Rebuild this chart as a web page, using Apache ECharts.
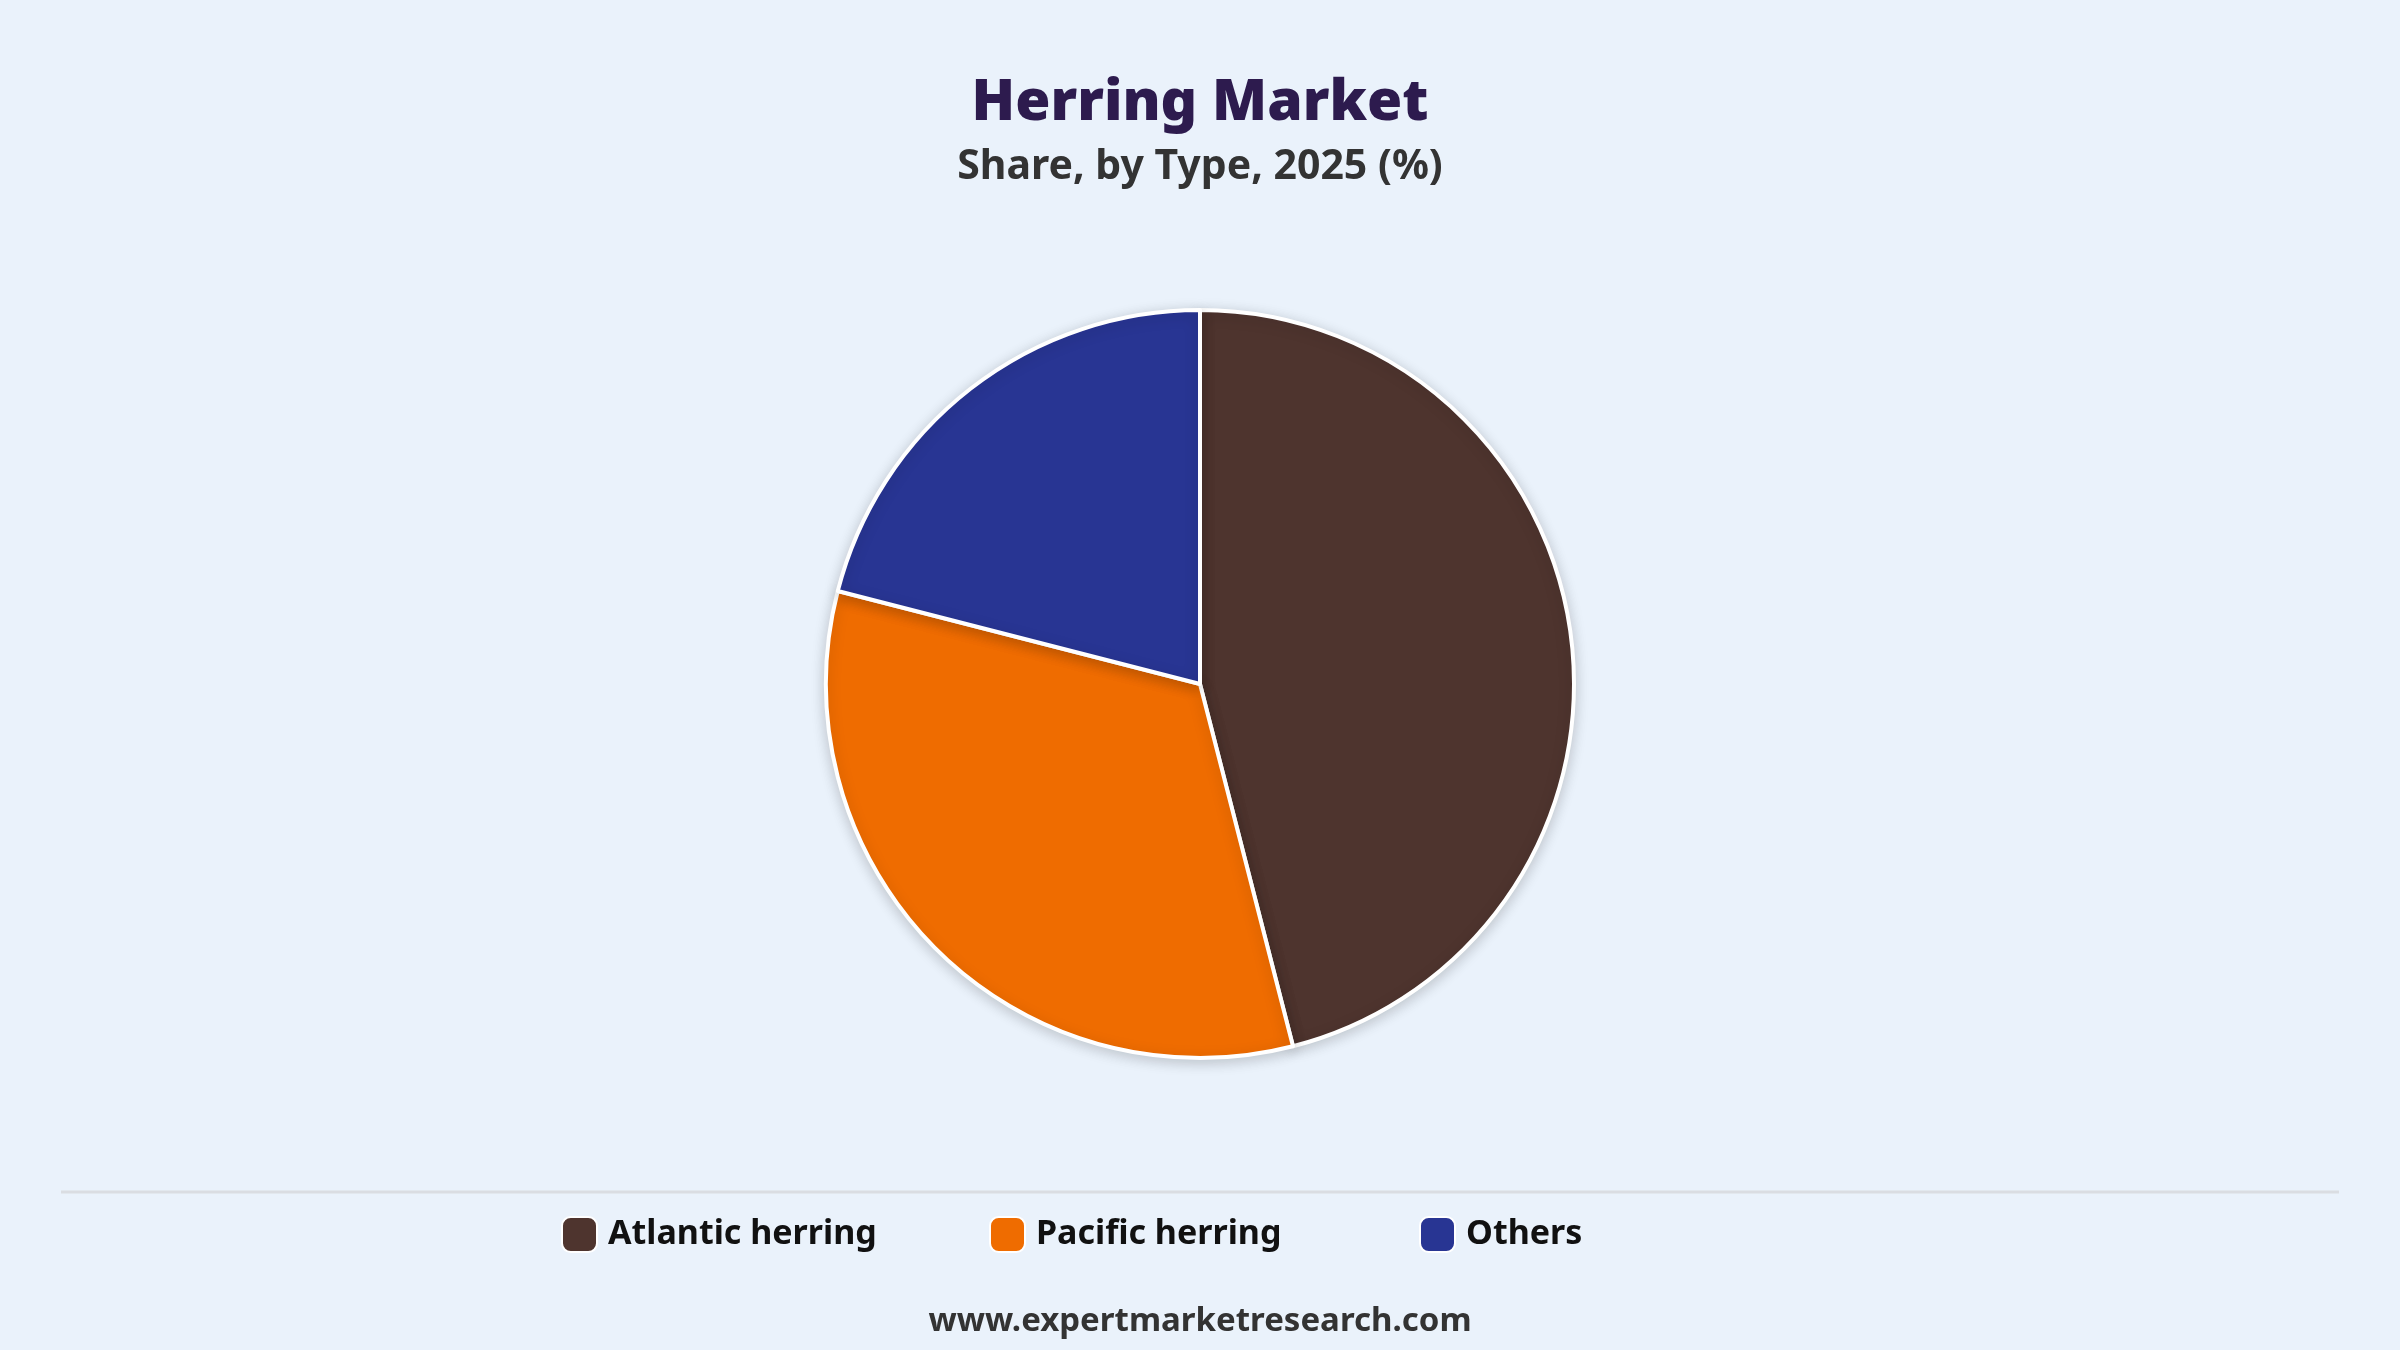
<!DOCTYPE html>
<html>
<head>
<meta charset="utf-8">
<script src="https://cdn.jsdelivr.net/npm/echarts@6/dist/echarts.min.js"></script>
<style>
html,body{margin:0;padding:0;background:#EAF2FB;}
#chart{width:2400px;height:1350px;}
</style>
</head>
<body>
<div id="chart"></div>
<script>
const categories = ['Atlantic herring', 'Pacific herring', 'Others'];
const shares = [46, 33, 21];
const colors = ['#4E342E', '#EF6C00', '#283593'];

const legendLefts = [556, 984, 1414];
const legendCommon = {
  top: 1211,
  itemWidth: 35,
  itemHeight: 35,
  itemGap: 0,
  icon: 'roundRect',
  textStyle: {fontFamily: 'Noto Sans', fontWeight: 'bold', fontSize: 34, color: '#111111', padding: [0, 0, 0, 6]},
  selectedMode: false
};

const chart = echarts.init(document.getElementById('chart'));
chart.setOption({
  backgroundColor: '#EAF2FB',
  title: [{
    text: 'Herring Market',
    left: 'center',
    top: 70,
    textStyle: {fontFamily: 'Noto Sans', fontWeight: 900, fontSize: 57, color: '#2D1B4E'}
  }, {
    text: 'Share, by Type, 2025 (%)',
    left: 'center',
    top: 142,
    textStyle: {fontFamily: 'Noto Sans', fontWeight: 'bold', fontSize: 41, color: '#333333'}
  }, {
    text: 'www.expertmarketresearch.com',
    left: 'center',
    top: 1300,
    textStyle: {fontFamily: 'Noto Sans', fontWeight: 'bold', fontSize: 33, color: '#333333'}
  }],
  legend: categories.map((c, i) => Object.assign({}, legendCommon, {data: [c], left: legendLefts[i]})),
  graphic: [{
    type: 'line',
    shape: {x1: 61, y1: 1192, x2: 2339, y2: 1192},
    style: {stroke: '#DADDE2', lineWidth: 3}
  }],
  series: [{
    type: 'pie',
    center: [1200, 684],
    radius: [0, 374],
    startAngle: 90,
    clockwise: true,
    label: {show: false},
    labelLine: {show: false},
    emphasis: {disabled: true},
    itemStyle: {borderColor: '#ffffff', borderWidth: 4, shadowColor: 'rgba(0,0,0,0.18)', shadowBlur: 14, shadowOffsetY: 3},
    data: categories.map((c, i) => ({name: c, value: shares[i], itemStyle: {color: colors[i]}}))
  }]
});
</script>
</body>
</html>
